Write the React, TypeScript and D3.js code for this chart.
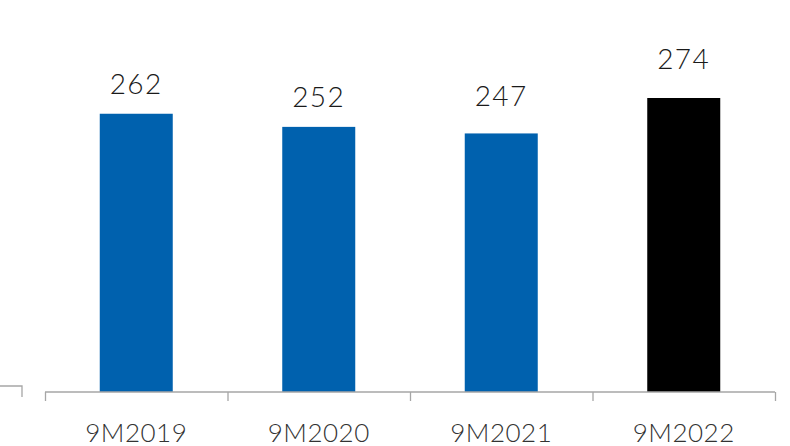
import React, { useEffect, useRef } from 'react';
import * as d3 from 'd3';

const categories = ['9M2019', '9M2020', '9M2021', '9M2022'];
const values = [262, 252, 247, 274];
const barColors = ['#0061ae', '#0061ae', '#0061ae', '#000000'];
// gap between bar top and label baseline (the labels sit at uneven heights)
const labelGap = [20, 19.5, 27, 29.5];

const W = 790;
const H = 446;

const App = () => {
  const svgRef = useRef<SVGSVGElement>(null);

  useEffect(() => {
    if (!svgRef.current) return;
    const svg = d3.select(svgRef.current);
    svg.selectAll('*').remove();

    const x = d3.scaleBand().domain(categories).range([45, 775]).paddingInner(0.6).paddingOuter(0.3);
    const baseline = 392;
    const y = d3.scaleLinear().domain([50, 274]).range([baseline, 98]);

    // bars
    svg.selectAll('.bar')
      .data(values)
      .enter()
      .append('rect')
      .attr('x', (_, i) => x(categories[i]) || 0)
      .attr('y', d => y(d))
      .attr('width', x.bandwidth())
      .attr('height', d => baseline - y(d))
      .attr('fill', (_, i) => barColors[i]);

    // value labels
    svg.selectAll('.val')
      .data(values)
      .enter()
      .append('text')
      .attr('x', (_, i) => (x(categories[i]) || 0) + x.bandwidth() / 2)
      .attr('y', (d, i) => y(d) - labelGap[i])
      .attr('text-anchor', 'middle')
      .attr('font-family', 'Lato, sans-serif')
      .attr('font-weight', 300)
      .attr('font-size', 28)
      .attr('letter-spacing', 1.5)
      .attr('fill', '#1a1a1a')
      .text(d => d);

    // axis with ticks between bands
    const edges = d3.range(categories.length + 1).map(i => 45 + i * x.step());
    const axis = d3.axisBottom(d3.scaleLinear().domain([0, categories.length]).range([45, 775]))
      .ticks(categories.length)
      .tickSize(9)
      .tickFormat(() => '');
    const g = svg.append('g').attr('transform', `translate(0,${baseline})`).call(axis);
    g.select('.domain').attr('stroke', '#a6a6a6').attr('stroke-width', 1.3).attr('d', `M${edges[0]},0H${edges[edges.length - 1]}`);
    g.selectAll('.tick line').attr('stroke', '#a6a6a6').attr('stroke-width', 1.3);

    // category labels
    svg.selectAll('.cat')
      .data(categories)
      .enter()
      .append('text')
      .attr('x', d => (x(d) || 0) + x.bandwidth() / 2)
      .attr('y', 441.5)
      .attr('text-anchor', 'middle')
      .attr('font-family', 'Lato, sans-serif')
      .attr('font-weight', 300)
      .attr('font-size', 26)
      .attr('letter-spacing', 0.5)
      .attr('fill', '#333')
      .text(d => d);

    // small clipped bracket at left edge
    svg.append('path')
      .attr('d', 'M0,386H22V397')
      .attr('fill', 'none')
      .attr('stroke', '#a6a6a6')
      .attr('stroke-width', 1.3);
  }, []);

  return (
    <svg
      ref={svgRef}
      width={W}
      height={H}
      style={{ position: 'fixed', left: 0, top: 0, background: '#fff' }}
    />
  );
};

export default App;
